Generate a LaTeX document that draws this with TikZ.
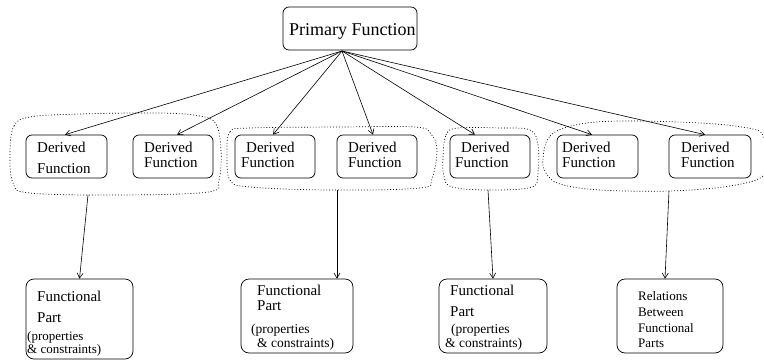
\documentclass[tikz,border=0pt]{standalone}
\usepackage{fontspec}
\setmainfont{Liberation Serif}
\usetikzlibrary{arrows.meta}
\begin{document}
\begin{tikzpicture}[x=1pt,y=-1pt,
  box/.style={draw, rounded corners=6pt, line width=0.7pt, inner sep=0pt},
  bbox/.style={draw, rounded corners=8pt, line width=0.7pt, inner sep=0pt},
  conn/.style={line width=0.6pt, -{Straight Barb[length=5pt,width=6pt]}},
  grp/.style={line width=0.7pt, dash pattern=on 0.9pt off 2pt},
  tbig/.style={anchor=base west, inner sep=0pt, font=\fontsize{18}{20}\selectfont},
  tmid/.style={anchor=base west, inner sep=0pt, font=\fontsize{15}{17}\selectfont},
  tsml/.style={anchor=base west, inner sep=0pt, font=\fontsize{13.5}{15}\selectfont},
  tsmb/.style={anchor=base west, inner sep=0pt, font=\fontsize{13}{14}\selectfont},
  trel/.style={anchor=base west, inner sep=0pt, font=\fontsize{13}{15}\selectfont}]
\useasboundingbox (0,0) rectangle (764,362);
\clip (0,0) rectangle (764,362);

% primary
\node[box, minimum width=134pt, minimum height=43pt] (pf) at (350,28.5) {};
\node[tbig] (pft) at (289,35) {Primary Function};
\coordinate (src) at (342,51);

% derived boxes
\node[box, minimum width=81pt, minimum height=43pt] (d1) at (66.5,156.5) {};
\node[box, minimum width=80pt, minimum height=43pt] (d2) at (173,156.5) {};
\node[box, minimum width=80pt, minimum height=43pt] (d3) at (275,156.5) {};
\node[box, minimum width=80pt, minimum height=43pt] (d4) at (377,156.5) {};
\node[box, minimum width=80pt, minimum height=43pt] (d5) at (490,156.5) {};
\node[box, minimum width=81pt, minimum height=43pt] (d6) at (597.5,156.5) {};
\node[box, minimum width=82pt, minimum height=43pt] (d7) at (710,156.5) {};

\node[tmid] (d1a) at (37,152) {Derived};
\node[tmid] (d1b) at (37,173) {Function};
\node[tmid] (d2a) at (144,152) {Derived};
\node[tmid] (d2b) at (144,167.5) {Function};
\node[tmid] (d3a) at (246,152) {Derived};
\node[tmid] (d3b) at (241,167.5) {Function};
\node[tmid] (d4a) at (348,152) {Derived};
\node[tmid] (d4b) at (348,167.5) {Function};
\node[tmid] (d5a) at (461,152) {Derived};
\node[tmid] (d5b) at (455,167.5) {Function};
\node[tmid] (d6a) at (562,152) {Derived};
\node[tmid] (d6b) at (562,167.5) {Function};
\node[tmid] (d7a) at (681,152) {Derived};
\node[tmid] (d7b) at (681,167.5) {Function};

% arrows from primary
\draw[conn] (src) -- ([xshift=-1.5pt]d1.north);
\draw[conn] (src) -- ([xshift=4pt]d2.north);
\draw[conn] (src) -- ([xshift=-2pt]d3.north);
\draw[conn] (src) -- ([xshift=-4pt]d4.north);
\draw[conn] (src) -- ([xshift=-15pt]d5.north);
\draw[conn] (src) -- ([xshift=-5.5pt]d6.north);
\draw[conn] (src) -- ([xshift=-5pt]d7.north);

% groups
\draw[grp] plot[smooth cycle, tension=0.6] coordinates {
  (10,152) (14,126) (30,117) (80,114) (160,113) (200,116) (216,124) (221,150)
  (219,180) (208,192) (120,195) (30,193) (13,183)};
\draw[grp] plot[smooth cycle, tension=0.6] coordinates {
  (227,155) (230,132) (250,128) (340,127) (415,127) (431,134) (437,150)
  (432,178) (420,188) (330,190) (250,187) (230,180)};
\draw[grp] plot[smooth cycle, tension=0.6] coordinates {
  (443,158) (446,135) (458,128) (500,128) (530,130) (538,145) (538,172)
  (532,187) (490,190) (452,187) (444,176)};
\draw[grp] plot[smooth cycle, tension=0.6] coordinates {
  (543,158) (550,136) (575,125) (620,121) (700,123) (748,128) (763,135) (766,155)
  (763,176) (730,186) (670,191) (600,190) (560,184) (546,173)};

\coordinate (g1) at (88,195);
\coordinate (g2) at (337,190);
\coordinate (g3) at (488,190);
\coordinate (g4) at (669,191);

% bottom boxes
\node[bbox, minimum width=107pt, minimum height=80pt] (b1) at (79.5,319) {};
\node[bbox, minimum width=112pt, minimum height=74pt] (b2) at (297,316) {};
\node[bbox, minimum width=108pt, minimum height=74pt] (b3) at (493,316) {};
\node[bbox, minimum width=106pt, minimum height=74pt] (b4) at (670,316) {};

\node[tmid] (b1a) at (37,301) {Functional};
\node[tmid] (b1b) at (37,322) {Part};
\node[tsmb] (b1c) at (27,340.5) {(properties};
\node[tsmb] (b1d) at (27,353.5) {\& constraints)};

\node[tmid] (b2a) at (257,295) {Functional};
\node[tmid] (b2b) at (257,310) {Part};
\node[tsml] (b2c) at (251,333) {(properties};
\node[tsml] (b2d) at (257,347) {\& constraints)};

\node[tmid] (b3a) at (450,295) {Functional};
\node[tmid] (b3b) at (450,316) {Part};
\node[tsml] (b3c) at (451,333) {(properties};
\node[tsml] (b3d) at (445,347) {\& constraints)};

\node[trel] (b4a) at (638,300) {Relations};
\node[trel] (b4b) at (638,316) {Between};
\node[trel] (b4c) at (638,332) {Functional};
\node[trel] (b4d) at (638,347) {Parts};

% group to bottom
\draw[conn] (g1) -- (b1.north);
\draw[conn] (g2) -- ([xshift=40pt]b2.north);
\draw[conn] (g3) -- (b3.north);
\draw[conn] (g4) -- ([xshift=-5pt]b4.north);
\end{tikzpicture}
\end{document}
